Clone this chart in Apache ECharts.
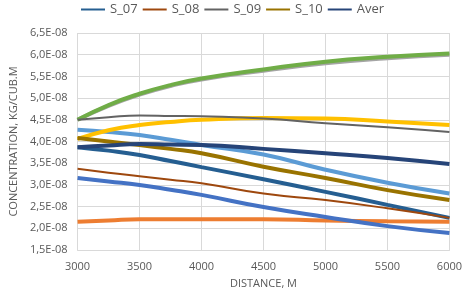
<!DOCTYPE html>
<html>
<head>
<meta charset="utf-8">
<script src="https://cdn.jsdelivr.net/npm/echarts@6/dist/echarts.min.js"></script>
<style>
  html, body { margin: 0; padding: 0; background: #fff; }
  #chart { width: 465px; height: 295px; }
</style>
</head>
<body>
<div id="chart"></div>
<script>
// distance, m
const distance = [3000, 3250, 3500, 3750, 4000, 4500, 5000, 5500, 6000];

// concentration, x 1E-08 kg/cub.m
const s01 = [4.27, 4.22, 4.15, 4.04, 3.92, 3.70, 3.35, 3.05, 2.80];
const s02 = [2.15, 2.18, 2.21, 2.21, 2.21, 2.21, 2.18, 2.16, 2.15];
const s03 = [4.50, 4.82, 5.08, 5.28, 5.43, 5.63, 5.80, 5.92, 6.00];
const s04 = [4.06, 4.26, 4.38, 4.45, 4.50, 4.54, 4.53, 4.46, 4.38];
const s05 = [3.16, 3.08, 3.00, 2.89, 2.77, 2.49, 2.26, 2.05, 1.89];
const s06 = [4.50, 4.84, 5.10, 5.30, 5.45, 5.66, 5.84, 5.95, 6.03];
const s07 = [3.87, 3.79, 3.69, 3.55, 3.41, 3.13, 2.84, 2.54, 2.24];
const s08 = [3.37, 3.28, 3.20, 3.12, 3.04, 2.80, 2.65, 2.46, 2.24];
const s09 = [4.50, 4.56, 4.60, 4.59, 4.58, 4.53, 4.42, 4.33, 4.22];
const s10 = [4.08, 4.00, 3.92, 3.83, 3.73, 3.42, 3.16, 2.88, 2.65];
const aver = [3.87, 3.91, 3.94, 3.93, 3.92, 3.83, 3.73, 3.62, 3.48];

const legendNames = ['S_07', 'S_08', 'S_09', 'S_10', 'Aver'];

const chart = echarts.init(document.getElementById('chart'));

function pairs(arr) {
    return arr.map((v, i) => [distance[i], v]);
}

function line(name, data, color, width) {
    return {
        name: name,
        type: 'line',
        data: pairs(data),
        smooth: true,
        showSymbol: false,
        symbol: 'none',
        lineStyle: { color: color, width: width },
        itemStyle: { color: color }
    };
}

const font = 'Liberation Sans Narrow, Open Sans, sans-serif';

const option = {
    backgroundColor: '#fff',
    animation: false,
    legend: {
        data: legendNames,
        top: -2,
        left: 76,
        itemWidth: 24,
        itemHeight: 8,
        itemGap: 5,
        icon: 'path://M0,4L24,4L24,6L0,6Z',
        textStyle: { color: '#595959', fontSize: 13, fontFamily: font }
    },
    grid: {
        left: 60,
        right: 13,
        top: 33,
        bottom: 45
    },
    xAxis: {
        type: 'value',
        min: 3000,
        max: 6000,
        interval: 500,
        name: 'DISTANCE, M',
        nameLocation: 'middle',
        nameGap: 28,
        nameTextStyle: { color: '#595959', fontSize: 11, fontFamily: font },
        axisLine: { lineStyle: { color: '#d9d9d9' } },
        axisTick: { show: false },
        axisLabel: {
            color: '#595959',
            fontSize: 11,
            margin: 11,
            fontFamily: font,
            formatter: v => String(v)
        },
        splitLine: { lineStyle: { color: '#d9d9d9' } }
    },
    yAxis: {
        type: 'value',
        min: 1.5,
        max: 6.5,
        interval: 0.5,
        name: 'CONCENTRATION, KG/CUB.M',
        nameLocation: 'middle',
        nameGap: 46,
        nameTextStyle: { color: '#595959', fontSize: 11, fontFamily: font },
        axisLine: { show: false },
        axisTick: { show: false },
        axisLabel: {
            color: '#595959',
            fontSize: 11,
            margin: 10,
            fontFamily: font,
            formatter: v => v.toFixed(1).replace('.', ',') + 'E-08'
        },
        splitLine: { lineStyle: { color: '#d9d9d9' } }
    },
    series: [
        line('S_01', s01, '#5B9BD5', 4),
        line('S_02', s02, '#ED7D31', 4),
        line('S_03', s03, '#A5A5A5', 4),
        line('S_04', s04, '#FFC000', 4),
        line('S_05', s05, '#4472C4', 4),
        line('S_06', s06, '#70AD47', 4),
        line('S_07', s07, '#255E91', 4),
        line('S_08', s08, '#9E480E', 2),
        line('S_09', s09, '#636363', 2),
        line('S_10', s10, '#997300', 4),
        line('Aver', aver, '#264478', 4)
    ]
};

chart.setOption(option);
</script>
</body>
</html>
